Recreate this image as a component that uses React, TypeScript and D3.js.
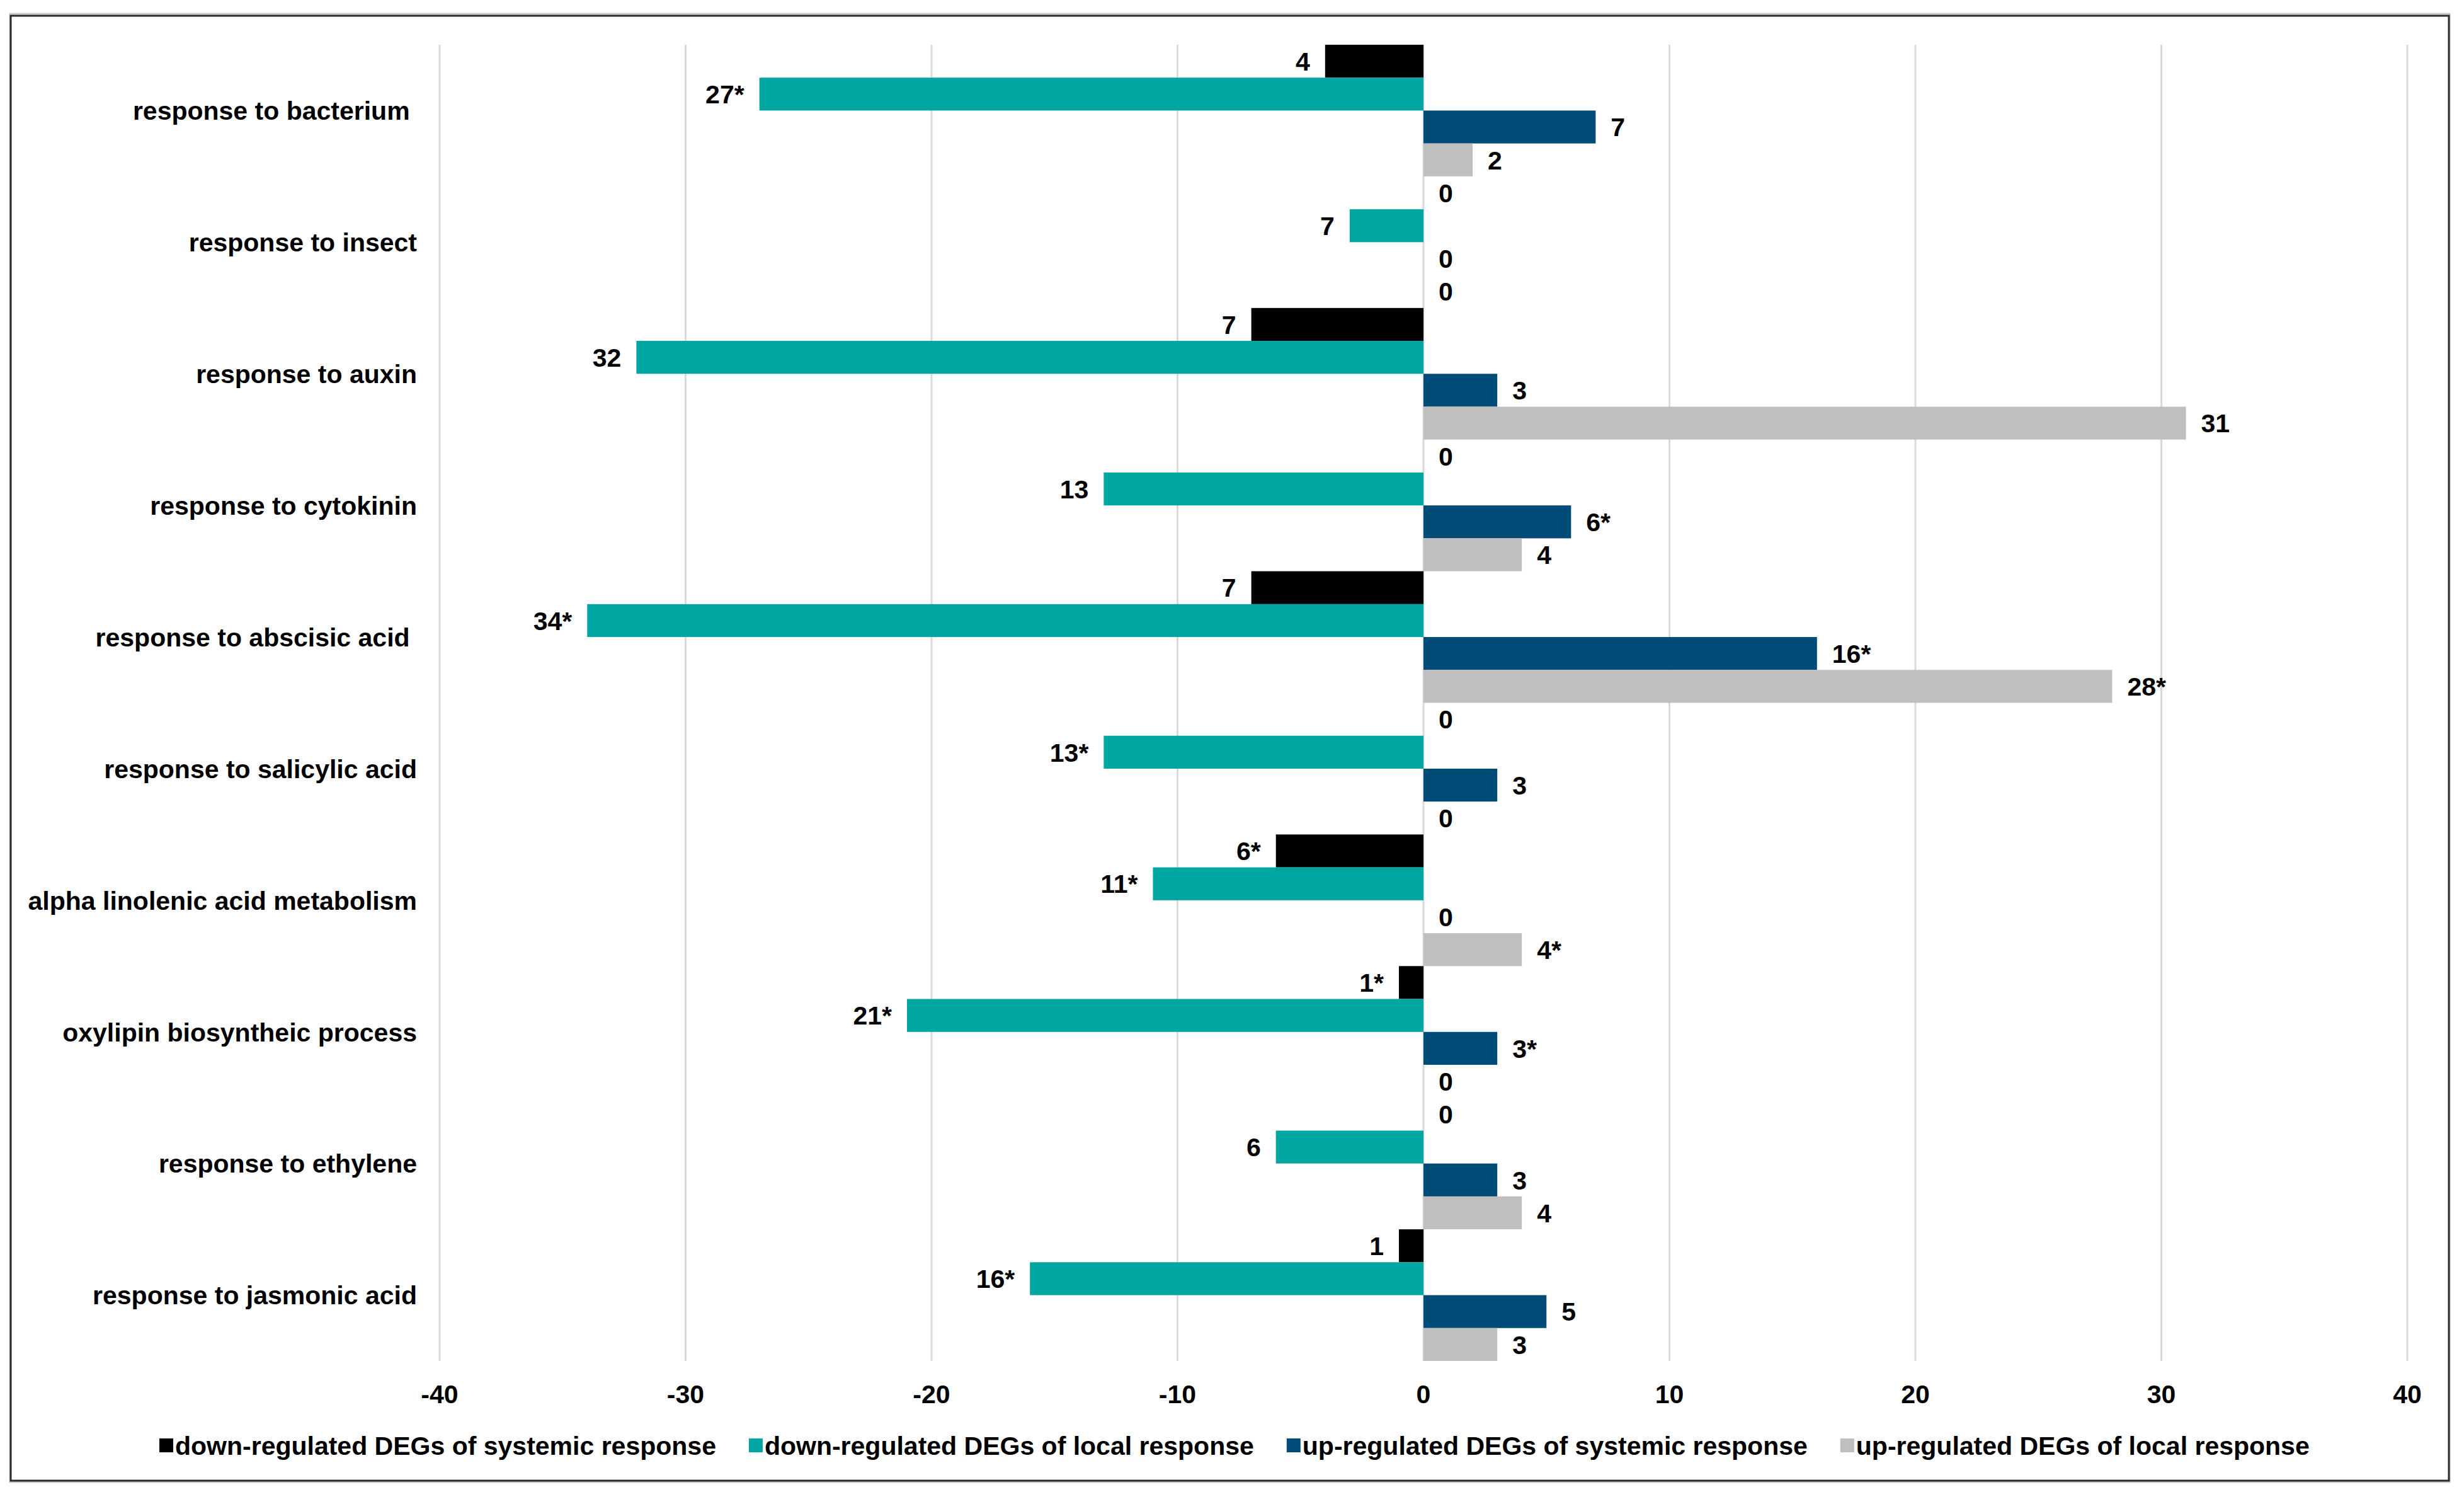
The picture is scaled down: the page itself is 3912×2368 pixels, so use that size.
import { useMemo } from "react"
import * as d3 from "d3"

const categories = [
  "response to bacterium ",
  "response to insect",
  "response to auxin",
  "response to cytokinin",
  "response to abscisic acid ",
  "response to salicylic acid",
  "alpha linolenic acid metabolism",
  "oxylipin biosyntheic process",
  "response to ethylene",
  "response to jasmonic acid",
]

const seriesNames = [
  "down-regulated DEGs of systemic response",
  "down-regulated DEGs of local response",
  "up-regulated DEGs of systemic response",
  "up-regulated DEGs of local response",
]

// bar lengths as drawn
const downSystemic = [-4, 0, -7, 0, -7, 0, -6, -1, 0, -1]
const downLocal = [-27, -3, -32, -13, -34, -13, -11, -21, -6, -16]
const upSystemic = [7, 0, 3, 6, 16, 3, 0, 3, 3, 5]
const upLocal = [2, 0, 31, 4, 28, 0, 4, 0, 4, 3]

// printed value labels (insect bar is labelled 7 in the source)
const downSystemicLabels = ["4", "0", "7", "0", "7", "0", "6*", "1*", "0", "1"]
const downLocalLabels = ["27*", "7", "32", "13", "34*", "13*", "11*", "21*", "6", "16*"]
const upSystemicLabels = ["7", "0", "3", "6*", "16*", "3", "0", "3*", "3", "5"]
const upLocalLabels = ["2", "0", "31", "4", "28*", "0", "4*", "0", "4", "3"]

const xTicks = [-40, -30, -20, -10, 0, 10, 20, 30, 40]

const colors = ["#000000", "#00A6A1", "#004C79", "#BFBFBF"]

const W = 3912
const H = 2368
const FONT = "'Liberation Sans', Arial, sans-serif"
const FS = 41

const App = () => {
  const series = [downSystemic, downLocal, upSystemic, upLocal]
  const labels = [downSystemicLabels, downLocalLabels, upSystemicLabels, upLocalLabels]

  const x = d3.scaleLinear().domain([-40, 40]).range([698, 3822])
  const y = d3.scaleBand<string>().domain(categories).range([71, 2160]).padding(0)
  const inner = d3.scaleBand<number>().domain([0, 1, 2, 3]).range([0, y.bandwidth()]).padding(0)

  // legend layout from measured text widths
  const legendX = useMemo(() => {
    const ctx = document.createElement("canvas").getContext("2d")!
    ctx.font = `bold ${FS}px ${FONT}`
    const out: number[] = []
    let cx = 253
    seriesNames.forEach(n => {
      out.push(cx)
      cx += 25 + ctx.measureText(n).width + 52
    })
    return out
  }, [])

  return (
    <div style={{ position: "absolute", left: 0, top: 0 }}>
      <svg width={W} height={H} style={{ display: "block", background: "#fff" }}>
        <rect x={0} y={0} width={W} height={H} fill="#fff" />
        {/* frame */}
        <rect x={16} y={22} width={3873} height={2330} fill="none" stroke="#c8c8c8" strokeWidth={3} />
        <rect x={17} y={25} width={3871} height={2325} fill="none" stroke="#2b2b2b" strokeWidth={3} />

        {/* gridlines */}
        {xTicks.map(t => (
          <line key={t} x1={x(t)} x2={x(t)} y1={71} y2={2160} stroke="#d9d9d9" strokeWidth={3} />
        ))}

        {/* bars */}
        {series.map((vals, si) =>
          vals.map((v, ci) => {
            const yy = y(categories[ci])! + inner(si)!
            return (
              <rect
                key={`${si}-${ci}`}
                x={Math.min(x(0), x(v))}
                y={yy}
                width={Math.abs(x(v) - x(0))}
                height={inner.bandwidth()}
                fill={colors[si]}
              />
            )
          })
        )}

        {/* value labels */}
        <g fontFamily={FONT} fontWeight="bold" fontSize={FS} fill="#000">
          {series.map((vals, si) =>
            vals.map((v, ci) => {
              const yy = y(categories[ci])! + inner(si)! + inner.bandwidth() / 2
              const neg = v < 0
              return (
                <text
                  key={`l${si}-${ci}`}
                  x={neg ? x(v) - 24 : x(v) + 24}
                  y={yy}
                  dy="0.36em"
                  textAnchor={neg ? "end" : "start"}
                >
                  {labels[si][ci]}
                </text>
              )
            })
          )}
        </g>

        {/* category labels */}
        <g fontFamily={FONT} fontWeight="bold" fontSize={FS} fill="#000">
          {categories.map(c => (
            <text
              key={c}
              x={662}
              y={y(c)! + y.bandwidth() / 2}
              dy="0.36em"
              textAnchor="end"
              style={{ whiteSpace: "pre" }}
            >
              {c}
            </text>
          ))}
        </g>

        {/* x tick labels */}
        <g fontFamily={FONT} fontWeight="bold" fontSize={FS} fill="#000">
          {xTicks.map(t => (
            <text key={t} x={x(t)} y={2212} dy="0.36em" textAnchor="middle">
              {t}
            </text>
          ))}
        </g>

        {/* legend */}
        <g fontFamily={FONT} fontWeight="bold" fontSize={FS} fill="#000">
          {seriesNames.map((n, i) => (
            <g key={n} transform={`translate(${legendX[i]},2294)`}>
              <rect x={0} y={-11} width={22} height={22} fill={colors[i]} />
              <text x={25} y={0} dy="0.36em">{n}</text>
            </g>
          ))}
        </g>
      </svg>
    </div>
  )
}

export default App
